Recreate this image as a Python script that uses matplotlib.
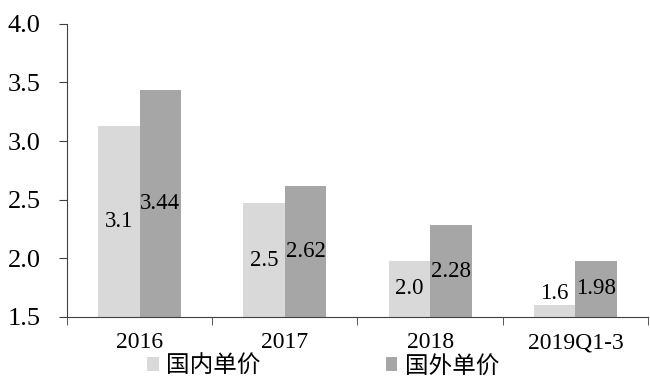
import numpy as np
import matplotlib.pyplot as plt

categories = ['2016', '2017', '2018', '2019Q1-3']
domestic = [3.13, 2.47, 1.98, 1.60]
foreign = [3.44, 2.62, 2.28, 1.98]
series_names = ['国内单价', '国外单价']

plt.rcParams['font.family'] = ['Liberation Serif', 'Noto Sans CJK SC']

fig = plt.figure(figsize=(6.5, 3.79), dpi=100)
ax = fig.add_axes([0.103, 0.164, 0.894, 0.773])

x = np.arange(len(categories))
w = 1 / 3.5
b1 = ax.bar(x - w / 2, np.array(domestic) - 1.5, w, bottom=1.5,
            color='#d9d9d9', label=series_names[0])
b2 = ax.bar(x + w / 2, np.array(foreign) - 1.5, w, bottom=1.5,
            color='#a6a6a6', label=series_names[1])

# value labels in the middle of each bar; short bars get the label on top
for xi, v in zip(x - w / 2, domestic):
    if v - 1.5 < 0.2:
        ax.text(xi, v + 0.01, '%.1f' % v, ha='center', va='bottom', fontsize=16.5)
    else:
        ax.text(xi, (v + 1.5) / 2, '%.1f' % v, ha='center', va='center', fontsize=16.5)
for xi, v in zip(x + w / 2, foreign):
    ax.text(xi, (v + 1.5) / 2, '%.2f' % v, ha='center', va='center', fontsize=16.5)

ax.set_xlim(-0.5, len(categories) - 0.5)
ax.set_ylim(1.5, 4.0)
ax.set_yticks(np.arange(1.5, 4.01, 0.5))
ax.set_yticklabels(['%.1f' % t for t in np.arange(1.5, 4.01, 0.5)])
ax.set_xticks(x)
ax.set_xticklabels(categories)
ax.set_xticks(np.arange(-0.5, len(categories)), minor=True)
ax.tick_params(axis='x', which='major', length=0, pad=11, labelsize=17)
ax.tick_params(axis='x', which='minor', length=6, direction='out', color='#404040')
ax.tick_params(axis='y', length=6, direction='out', pad=13, labelsize=19, color='#404040')

for s in ['top', 'right']:
    ax.spines[s].set_visible(False)
for s in ['left', 'bottom']:
    ax.spines[s].set_color('#404040')

fig.legend(handles=[b1, b2], loc='lower center', bbox_to_anchor=(0.497, -0.052),
           ncol=2, frameon=False, handlelength=0.5, handleheight=0.5,
           handletextpad=0.3, columnspacing=5.3, prop={'family': 'Noto Sans CJK SC', 'size': 17})

fig.savefig('out.png', dpi=100)
